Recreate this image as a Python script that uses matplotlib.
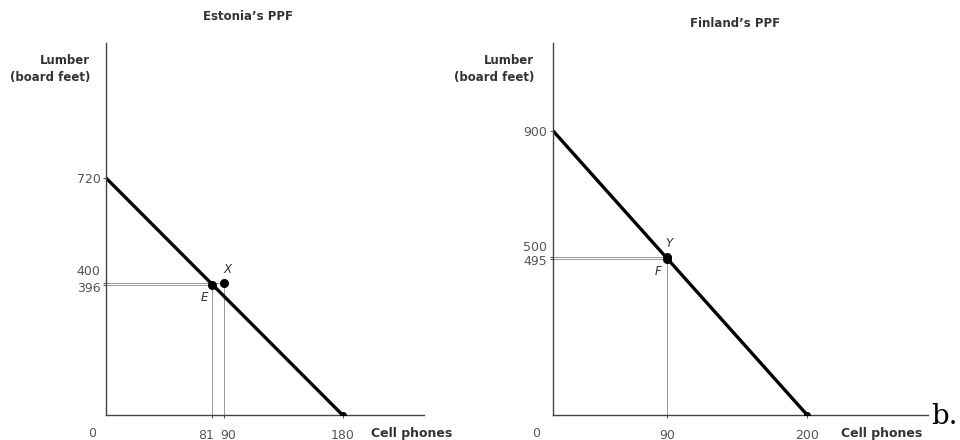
import matplotlib
matplotlib.use("Agg")
import matplotlib.pyplot as plt
import matplotlib.transforms as mtrans

# PPF intercepts (cell phones, lumber)
est_max_phones = 180
est_max_lumber = 720
fin_max_phones = 200
fin_max_lumber = 900

# labelled points
est_points = {"E": (81, 396), "X": (90, 400)}
fin_points = {"F": (90, 495), "Y": (90, 500)}

est_xticks = [81, 90, 180]
est_yticks = [396, 400, 720]
fin_xticks = [90, 200]
fin_yticks = [495, 500, 900]

grey = "#555555"
guide = "#999999"

fig = plt.figure(figsize=(9.6, 4.4), dpi=100)


def nudge(label, dx_px, dy_px):
    # shift a tick label a few pixels so close values stay readable
    off = mtrans.ScaledTranslation(dx_px / 100, dy_px / 100, fig.dpi_scale_trans)
    label.set_transform(label.get_transform() + off)


def draw_panel(ax, title, max_x, max_y, points, xticks, yticks, xlim, ylim,
               label_offsets, title_x, title_y, cell_x):
    ax.set_xlim(0, xlim)
    ax.set_ylim(0, ylim)
    for s in ["top", "right"]:
        ax.spines[s].set_visible(False)
    for s in ["left", "bottom"]:
        ax.spines[s].set_color("#444444")
        ax.spines[s].set_linewidth(1.0)

    # guide lines
    for name, (px, py) in points.items():
        ax.plot([0, px], [py, py], color=guide, lw=0.7, zorder=1)
        ax.plot([px, px], [0, py], color=guide, lw=0.7, zorder=1)

    ax.plot([0, max_x], [max_y, 0], color="black", lw=2.4, zorder=2)
    ax.plot([max_x], [0], "o", color="black", ms=4, zorder=3)

    for name, (px, py) in points.items():
        ax.plot([px], [py], "o", color="black", ms=5.5, zorder=3)
        dx, dy = label_offsets[name]
        ax.annotate(name, (px, py), xytext=(dx, dy), textcoords="offset points",
                    fontsize=8.5, fontstyle="italic", color="#333333",
                    ha="center", va="center")

    ax.set_xticks(xticks)
    ax.set_yticks(yticks)
    ax.tick_params(axis="x", length=2, pad=8, labelsize=9, colors=grey)
    ax.tick_params(axis="y", length=2, pad=2, labelsize=9, colors=grey)

    ax.text(-0.045, -0.05, "0", transform=ax.transAxes, fontsize=9,
            color=grey, ha="center", va="center")
    ax.text(cell_x, -0.05, "Cell phones", transform=ax.transAxes, fontsize=9,
            fontweight="bold", color="#333333", ha="left", va="center")
    ax.text(-0.05, 0.97, "Lumber\n(board feet)", transform=ax.transAxes,
            fontsize=8.5, fontweight="bold", color="#333333", ha="right",
            va="top", linespacing=1.4)
    fig.text(title_x, title_y, title, fontsize=8.5, fontweight="bold",
             color="#333333", ha="center", va="center")


ax1 = fig.add_axes([0.1104, 0.0568, 0.3313, 0.8455])
draw_panel(ax1, "Estonia\u2019s PPF", est_max_phones, est_max_lumber,
           est_points, est_xticks, est_yticks, 242, 1130,
           {"E": (-6, -9), "X": (2, 10)}, 0.258, 0.962, 0.833)
ylabels = ax1.get_yticklabels()
nudge(ylabels[0], 0, -2)
nudge(ylabels[1], 0, 13)
xlabels = ax1.get_xticklabels()
nudge(xlabels[0], -6, 0)
nudge(xlabels[1], 4, 0)

ax2 = fig.add_axes([0.576, 0.0568, 0.3906, 0.8455])
draw_panel(ax2, "Finland\u2019s PPF", fin_max_phones, fin_max_lumber,
           fin_points, fin_xticks, fin_yticks, 295, 1178,
           {"F": (-7, -9), "Y": (1, 10)}, 0.766, 0.947, 0.768)
ylabels = ax2.get_yticklabels()
nudge(ylabels[0], 0, -1)
nudge(ylabels[1], 0, 11)

fig.text(0.984, 0.022, "b.", fontsize=20, family="DejaVu Serif",
         ha="center", va="bottom", color="black")

fig.savefig("out.png", dpi=100)
